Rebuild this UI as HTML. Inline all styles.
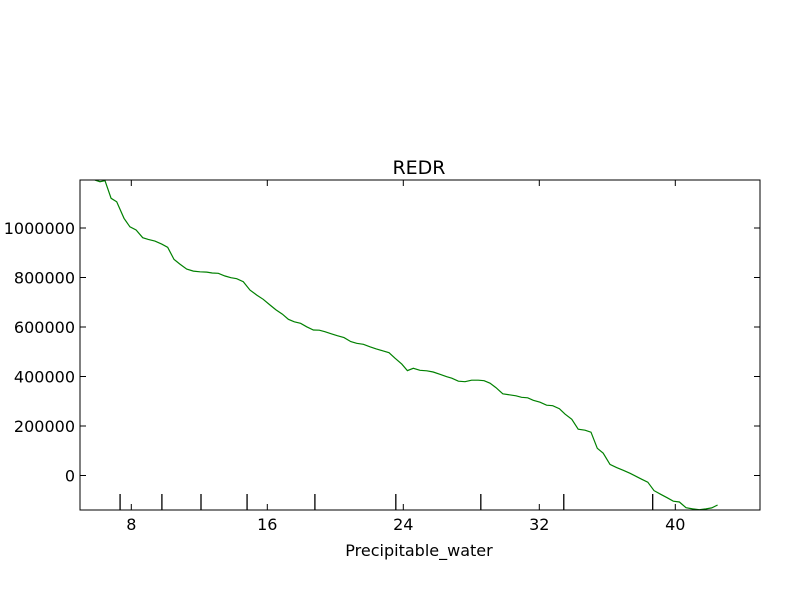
<!DOCTYPE html>
<html><head><meta charset="utf-8"><style>
body{margin:0;background:#fff;}
svg{display:block;font-family:"DejaVu Sans","Liberation Sans",sans-serif;}
</style></head><body>
<svg id="chart" width="800" height="600" xmlns="http://www.w3.org/2000/svg">
<rect width="800" height="600" fill="#fff"/>
<text x="419" y="174" font-size="19" text-anchor="middle">REDR</text>
<text x="419" y="556" font-size="16" text-anchor="middle">Precipitable_water</text>
<g id="ticks"></g>
<g id="rug"></g>
<svg x="80" y="180" width="680" height="330" overflow="hidden"><g id="lines" transform="translate(-80,-180)"></g></svg>
<rect x="80" y="180" width="680" height="330" fill="none" stroke="#000" stroke-width="1"/>
</svg>
<script>
const xVals=[5.86,6.16,6.45,6.81,7.14,7.57,7.92,8.28,8.67,9.00,9.39,9.79,10.14,10.51,10.86,11.26,11.65,12.04,12.44,12.76,13.12,13.51,13.86,14.20,14.59,14.98,15.38,15.76,16.16,16.51,16.88,17.24,17.59,17.96,18.32,18.71,19.06,19.39,19.79,20.12,20.51,20.91,21.26,21.65,22.04,22.39,22.79,23.16,23.51,23.91,24.24,24.59,24.98,25.38,25.76,26.16,26.55,26.85,27.24,27.63,28.02,28.41,28.75,29.10,29.45,29.85,30.24,30.63,30.96,31.32,31.65,32.04,32.43,32.79,33.18,33.51,33.91,34.29,34.69,35.04,35.41,35.76,36.16,36.55,36.94,37.34,37.73,38.02,38.38,38.75,39.14,39.53,39.88,40.24,40.63,41.02,41.41,41.81,42.14,42.49];
const yVals=[1194000,1187000,1191000,1120000,1106000,1039000,1005000,992000,961000,954000,947000,935000,922000,873000,854000,834000,826000,823000,822000,818000,817000,806000,799000,795000,783000,749000,729000,712000,689000,669000,652000,631000,621000,615000,601000,588000,587000,581000,572000,565000,557000,541000,534000,530000,520000,512000,504000,496000,474000,450000,424000,433000,425000,423000,418000,409000,399000,393000,381000,379000,385000,385000,383000,373000,355000,330000,326000,322000,316000,314000,304000,296000,284000,282000,270000,248000,227000,187000,183000,175000,110000,90000,45000,32000,21000,9000,-5000,-15000,-27000,-61000,-76000,-90000,-104000,-107000,-130000,-135000,-138000,-135000,-131000,-119000];
const xTicks=[8,16,24,32,40];
const yTicks=[0,200000,400000,600000,800000,1000000];
const rugVals=[7.34,9.80,12.10,14.81,18.80,23.56,28.56,33.44,38.67];
const NS='http://www.w3.org/2000/svg';
function sx(v){return 131.3+(v-8)*17;}
function sy(v){return 475.5-v*49.5/200000;}
function mk(tag,attrs,parent){const e=document.createElementNS(NS,tag);for(const k in attrs)e.setAttribute(k,attrs[k]);parent.appendChild(e);return e;}
const tg=document.getElementById('ticks');
xTicks.forEach(t=>{const x=sx(t);
 let l=mk('line',{x1:x,x2:x,y1:510,y2:504,stroke:'#000'},tg);
 
 
 let l2=mk('line',{x1:x,x2:x,y1:180,y2:186,stroke:'#000'},tg);
 
 
 let tx=mk('text',{x:x,y:530,'font-size':16,'text-anchor':'middle'},tg);tx.textContent=t;
 
 
});
yTicks.forEach(t=>{const y=sy(t);
 let l=mk('line',{x1:80,x2:86,y1:y,y2:y,stroke:'#000'},tg);
 
 
 let l2=mk('line',{x1:760,x2:754,y1:y,y2:y,stroke:'#000'},tg);
 
 
 let tx=mk('text',{x:75,y:y+6,'font-size':16,'text-anchor':'end'},tg);tx.textContent=t;
 
 
});
const rg=document.getElementById('rug');
rugVals.forEach(v=>{const x=sx(v);
 let l=mk('line',{x1:x,x2:x,y1:510,y2:494,stroke:'#000','stroke-width':1.3},rg);
 
 
});
const pts=xVals.map((v,i)=>sx(v).toFixed(1)+','+sy(yVals[i]).toFixed(1)).join(' ');
const pl=mk('polyline',{points:pts,fill:'none',stroke:'#008000','stroke-width':1.2},document.getElementById('lines'));


</script>
</body></html>
